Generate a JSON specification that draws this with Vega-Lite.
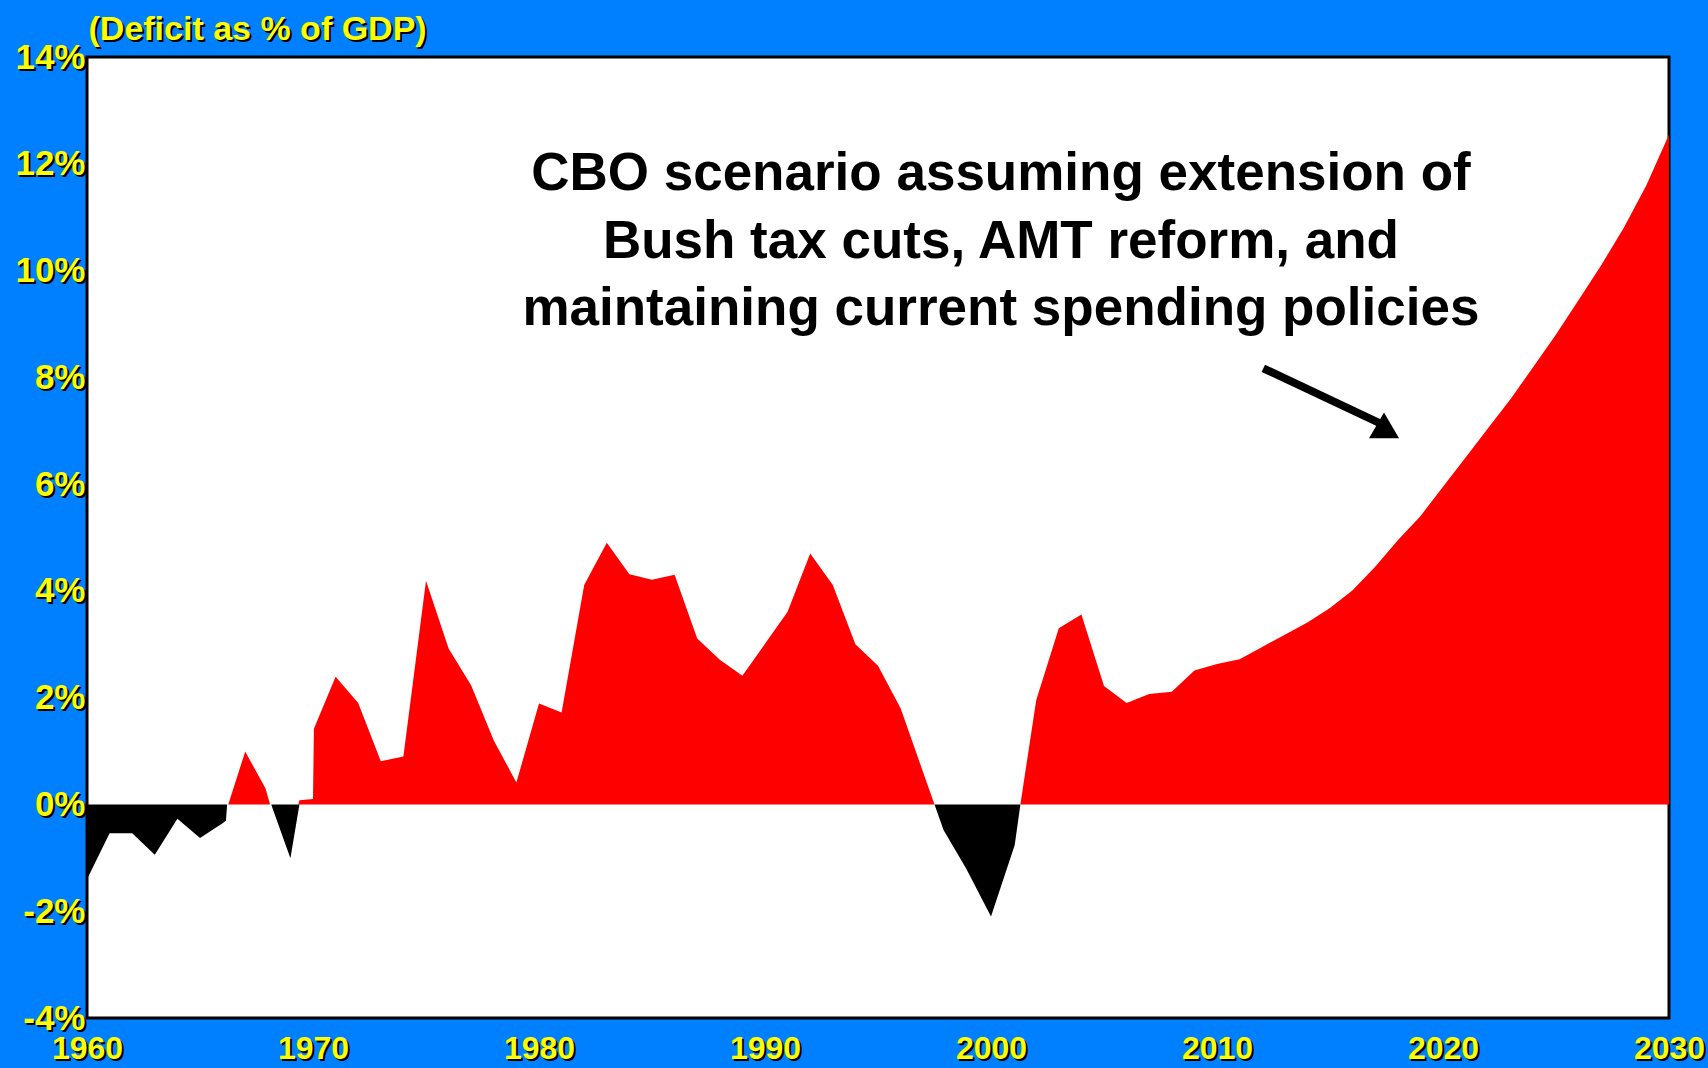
{
  "$schema": "https://vega.github.io/schema/vega-lite/v6.json",
  "width": 1582,
  "height": 961,
  "autosize": {"type": "none"},
  "padding": {"left": 87, "top": 57, "right": 39, "bottom": 50},
  "background": "#0080FF",
  "config": {
    "view": {"fill": "white", "stroke": "black", "strokeWidth": 3},
    "font": "Liberation Sans",
    "axis": {"domain": false, "ticks": false, "grid": false}
  },
  "datasets": {
    "deficit": [
      {"year": 1960, "pct": 0, "part": "pos"},
      {"year": 1966.25, "pct": 0, "part": "pos"},
      {"year": 1967, "pct": 0.99, "part": "pos"},
      {"year": 1967.9, "pct": 0.3, "part": "pos"},
      {"year": 1968.1, "pct": 0, "part": "pos"},
      {"year": 1969.35, "pct": 0, "part": "pos"},
      {"year": 1969.4, "pct": 0.08, "part": "pos"},
      {"year": 1970, "pct": 0.1, "part": "pos"},
      {"year": 1970.04, "pct": 1.42, "part": "pos"},
      {"year": 1971, "pct": 2.39, "part": "pos"},
      {"year": 1972, "pct": 1.9, "part": "pos"},
      {"year": 1973, "pct": 0.81, "part": "pos"},
      {"year": 1974, "pct": 0.9, "part": "pos"},
      {"year": 1975, "pct": 4.19, "part": "pos"},
      {"year": 1976, "pct": 2.92, "part": "pos"},
      {"year": 1977, "pct": 2.23, "part": "pos"},
      {"year": 1978, "pct": 1.2, "part": "pos"},
      {"year": 1979, "pct": 0.41, "part": "pos"},
      {"year": 1980, "pct": 1.89, "part": "pos"},
      {"year": 1981, "pct": 1.72, "part": "pos"},
      {"year": 1982, "pct": 4.11, "part": "pos"},
      {"year": 1983, "pct": 4.9, "part": "pos"},
      {"year": 1984, "pct": 4.31, "part": "pos"},
      {"year": 1985, "pct": 4.21, "part": "pos"},
      {"year": 1986, "pct": 4.3, "part": "pos"},
      {"year": 1987, "pct": 3.11, "part": "pos"},
      {"year": 1988, "pct": 2.71, "part": "pos"},
      {"year": 1989, "pct": 2.41, "part": "pos"},
      {"year": 1990, "pct": 3.01, "part": "pos"},
      {"year": 1991, "pct": 3.61, "part": "pos"},
      {"year": 1992, "pct": 4.7, "part": "pos"},
      {"year": 1993, "pct": 4.11, "part": "pos"},
      {"year": 1994, "pct": 3.0, "part": "pos"},
      {"year": 1995, "pct": 2.6, "part": "pos"},
      {"year": 1996, "pct": 1.8, "part": "pos"},
      {"year": 1997, "pct": 0.6, "part": "pos"},
      {"year": 1997.5, "pct": 0, "part": "pos"},
      {"year": 2001.3, "pct": 0, "part": "pos"},
      {"year": 2002, "pct": 1.95, "part": "pos"},
      {"year": 2003, "pct": 3.3, "part": "pos"},
      {"year": 2004, "pct": 3.56, "part": "pos"},
      {"year": 2005, "pct": 2.22, "part": "pos"},
      {"year": 2006, "pct": 1.9, "part": "pos"},
      {"year": 2007, "pct": 2.07, "part": "pos"},
      {"year": 2008, "pct": 2.11, "part": "pos"},
      {"year": 2009, "pct": 2.51, "part": "pos"},
      {"year": 2010, "pct": 2.63, "part": "pos"},
      {"year": 2011, "pct": 2.72, "part": "pos"},
      {"year": 2012, "pct": 2.95, "part": "pos"},
      {"year": 2013, "pct": 3.18, "part": "pos"},
      {"year": 2014, "pct": 3.41, "part": "pos"},
      {"year": 2015, "pct": 3.68, "part": "pos"},
      {"year": 2016, "pct": 4.01, "part": "pos"},
      {"year": 2017, "pct": 4.45, "part": "pos"},
      {"year": 2018, "pct": 4.95, "part": "pos"},
      {"year": 2019, "pct": 5.4, "part": "pos"},
      {"year": 2020, "pct": 5.95, "part": "pos"},
      {"year": 2021, "pct": 6.5, "part": "pos"},
      {"year": 2022, "pct": 7.05, "part": "pos"},
      {"year": 2023, "pct": 7.6, "part": "pos"},
      {"year": 2024, "pct": 8.2, "part": "pos"},
      {"year": 2025, "pct": 8.8, "part": "pos"},
      {"year": 2026, "pct": 9.45, "part": "pos"},
      {"year": 2027, "pct": 10.1, "part": "pos"},
      {"year": 2028, "pct": 10.8, "part": "pos"},
      {"year": 2029, "pct": 11.6, "part": "pos"},
      {"year": 2030, "pct": 12.55, "part": "pos"},
      {"year": 1960, "pct": -1.4, "part": "neg"},
      {"year": 1961, "pct": -0.54, "part": "neg"},
      {"year": 1962, "pct": -0.54, "part": "neg"},
      {"year": 1963, "pct": -0.94, "part": "neg"},
      {"year": 1964, "pct": -0.27, "part": "neg"},
      {"year": 1965, "pct": -0.63, "part": "neg"},
      {"year": 1966, "pct": -0.35, "part": "neg"},
      {"year": 1966.15, "pct": -0.3, "part": "neg"},
      {"year": 1966.2, "pct": 0, "part": "neg"},
      {"year": 1968.15, "pct": 0, "part": "neg"},
      {"year": 1969, "pct": -1.01, "part": "neg"},
      {"year": 1969.4, "pct": 0, "part": "neg"},
      {"year": 1997.5, "pct": 0, "part": "neg"},
      {"year": 1997.9, "pct": -0.48, "part": "neg"},
      {"year": 1998.9, "pct": -1.2, "part": "neg"},
      {"year": 2000, "pct": -2.1, "part": "neg"},
      {"year": 2001.05, "pct": -0.76, "part": "neg"},
      {"year": 2001.3, "pct": 0, "part": "neg"},
      {"year": 2030, "pct": 0, "part": "neg"}
    ],
    "arrow": [
      {"year": 2012.05, "pct": 8.17, "year2": 2017.21, "pct2": 7.14}
    ],
    "head": [
      {"year": 2017.39, "pct": 7.1}
    ],
    "note": [
      {"year": 2000.44, "pct": 11.81, "label": ["CBO scenario assuming extension of", "Bush tax cuts, AMT reform, and", "maintaining current spending policies"]}
    ]
  },
  "layer": [
    {
      "data": {"name": "deficit"},
      "mark": {"type": "area", "interpolate": "linear"},
      "encoding": {
        "x": {
          "field": "year", "type": "quantitative",
          "scale": {"domain": [1960, 2030], "nice": false, "zero": false},
          "axis": {
            "orient": "bottom", "values": [1960, 1970, 1980, 1990, 2000, 2010, 2020, 2030],
            "format": "d", "labelColor": "black", "labelFontSize": 32, "labelFontWeight": "bold",
            "labelFont": "Liberation Sans", "labelPadding": 17, "labelOffset": 2,
            "labelFlush": false, "labelOverlap": false, "labelBound": false, "title": null, "zindex": 0
          }
        },
        "y": {
          "field": "pct", "type": "quantitative", "stack": null,
          "scale": {"domain": [-4, 14], "nice": false, "zero": false},
          "axis": {
            "orient": "left", "values": [-4, -2, 0, 2, 4, 6, 8, 10, 12, 14],
            "labelExpr": "datum.value + '%'", "labelColor": "black", "labelFontSize": 35,
            "labelFontWeight": "bold", "labelFont": "Liberation Sans", "labelPadding": 0,
            "labelOffset": 2, "labelFlush": false, "labelOverlap": false, "labelBound": false,
            "title": "(Deficit as % of GDP)", "titleColor": "black", "titleAngle": 0,
            "titleAlign": "left", "titleBaseline": "alphabetic", "titleX": 3, "titleY": -16,
            "titleFontSize": 34, "titleFont": "Liberation Sans", "titleFontWeight": "bold", "zindex": 0
          }
        },
        "color": {
          "field": "part", "type": "nominal",
          "scale": {"domain": ["pos", "neg"], "range": ["#FF0000", "#000000"]},
          "legend": null
        }
      }
    },
    {
      "mark": {"type": "rule", "color": "black", "strokeWidth": 2},
      "encoding": {"y": {"datum": 0, "axis": null}}
    },
    {
      "data": {"name": "arrow"},
      "mark": {"type": "rule", "color": "black", "strokeWidth": 8, "strokeCap": "butt"},
      "encoding": {
        "x": {"field": "year", "type": "quantitative", "scale": {"domain": [1960, 2030], "nice": false, "zero": false}, "axis": null},
        "y": {"field": "pct", "type": "quantitative", "scale": {"domain": [-4, 14], "nice": false, "zero": false}, "axis": null},
        "x2": {"field": "year2"},
        "y2": {"field": "pct2"}
      }
    },
    {
      "data": {"name": "head"},
      "mark": {"type": "point", "shape": "triangle-up", "filled": true, "color": "black", "opacity": 1, "size": 900},
      "encoding": {
        "x": {"field": "year", "type": "quantitative", "scale": {"domain": [1960, 2030], "nice": false, "zero": false}, "axis": null},
        "y": {"field": "pct", "type": "quantitative", "scale": {"domain": [-4, 14], "nice": false, "zero": false}, "axis": null}
      }
    },
    {
      "data": {"name": "note"},
      "mark": {"type": "text", "font": "Liberation Sans", "fontWeight": "bold", "fontSize": 53, "color": "black", "align": "center", "baseline": "middle", "lineHeight": 67.6},
      "encoding": {
        "x": {
          "field": "year", "type": "quantitative",
          "scale": {"domain": [1960, 2030], "nice": false, "zero": false},
          "axis": {
            "orient": "bottom", "values": [1960, 1970, 1980, 1990, 2000, 2010, 2020, 2030],
            "format": "d", "labelColor": "#FFFF00", "labelFontSize": 32, "labelFontWeight": "bold",
            "labelFont": "Liberation Sans", "labelPadding": 15, "labelOffset": 0,
            "labelFlush": false, "labelOverlap": false, "labelBound": false, "title": null, "zindex": 1
          }
        },
        "y": {
          "field": "pct", "type": "quantitative",
          "scale": {"domain": [-4, 14], "nice": false, "zero": false},
          "axis": {
            "orient": "left", "values": [-4, -2, 0, 2, 4, 6, 8, 10, 12, 14],
            "labelExpr": "datum.value + '%'", "labelColor": "#FFFF00", "labelFontSize": 35,
            "labelFontWeight": "bold", "labelFont": "Liberation Sans", "labelPadding": 2,
            "labelOffset": 0, "labelFlush": false, "labelOverlap": false, "labelBound": false,
            "title": "(Deficit as % of GDP)", "titleColor": "#FFFF00", "titleAngle": 0,
            "titleAlign": "left", "titleBaseline": "alphabetic", "titleX": 1, "titleY": -18,
            "titleFontSize": 34, "titleFont": "Liberation Sans", "titleFontWeight": "bold", "zindex": 1
          }
        },
        "text": {"field": "label"}
      }
    }
  ],
  "resolve": {"axis": {"x": "independent", "y": "independent"}}
}
